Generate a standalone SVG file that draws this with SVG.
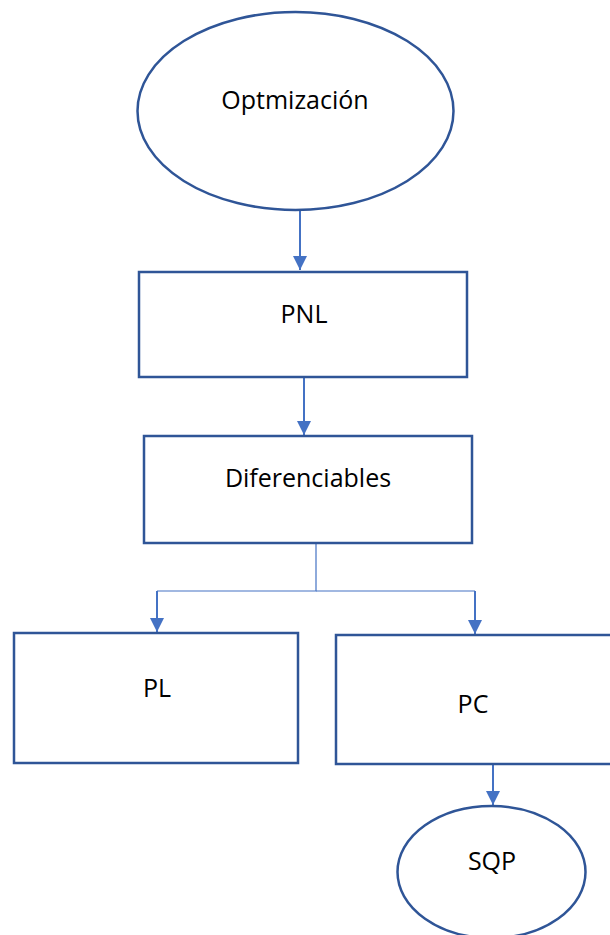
<svg xmlns="http://www.w3.org/2000/svg" width="610" height="935" viewBox="0 0 610 935">
  <style>
    .shape { fill: #ffffff; stroke: #2f5597; stroke-width: 2.5; }
    .label { font-family: "Open Sans", "Liberation Sans", sans-serif; font-size: 25px; fill: #000000; text-anchor: middle; }
    .link { fill: none; stroke: #4472c4; stroke-width: 2; }
    .branch { fill: none; stroke: #4472c4; stroke-width: 1.2; }
  </style>
  <defs>
    <marker id="arrow" viewBox="0 0 10 10" refX="10" refY="5" markerWidth="7" markerHeight="7" orient="auto" markerUnits="strokeWidth">
      <path d="M0,0 L10,5 L0,10 Z" fill="#4472c4"/>
    </marker>
  </defs>
  <rect width="610" height="935" fill="#ffffff"/>

  <g id="connectors">
    <line class="link" x1="300" y1="210" x2="300" y2="270" marker-end="url(#arrow)"/>
    <line class="link" x1="304" y1="378" x2="304" y2="435" marker-end="url(#arrow)"/>
    <polyline class="branch" points="316,544 316,591 157,591"/>
    <line class="branch" x1="316" y1="591" x2="475" y2="591"/>
    <line class="link" x1="157" y1="591" x2="157" y2="632" marker-end="url(#arrow)"/>
    <line class="link" x1="475" y1="591" x2="475" y2="634" marker-end="url(#arrow)"/>
    <line class="link" x1="493" y1="765" x2="493" y2="805" marker-end="url(#arrow)"/>
  </g>

  <g id="optimizacion">
    <ellipse class="shape" cx="295.5" cy="111" rx="158" ry="99"/>
    <text class="label" x="295" y="109">Optmización</text>
  </g>

  <g id="pnl">
    <rect class="shape" x="139" y="272" width="328" height="105"/>
    <text class="label" x="304" y="323">PNL</text>
  </g>

  <g id="diferenciables">
    <rect class="shape" x="144" y="436" width="328" height="107"/>
    <text class="label" x="308" y="487">Diferenciables</text>
  </g>

  <g id="pl">
    <rect class="shape" x="14" y="633" width="284" height="130"/>
    <text class="label" x="157" y="697">PL</text>
  </g>

  <g id="pc">
    <rect class="shape" x="336" y="635" width="290" height="129"/>
    <text class="label" x="473" y="713">PC</text>
  </g>

  <g id="sqp">
    <ellipse class="shape" cx="491.5" cy="872" rx="94" ry="66"/>
    <text class="label" x="492" y="870">SQP</text>
  </g>
</svg>
